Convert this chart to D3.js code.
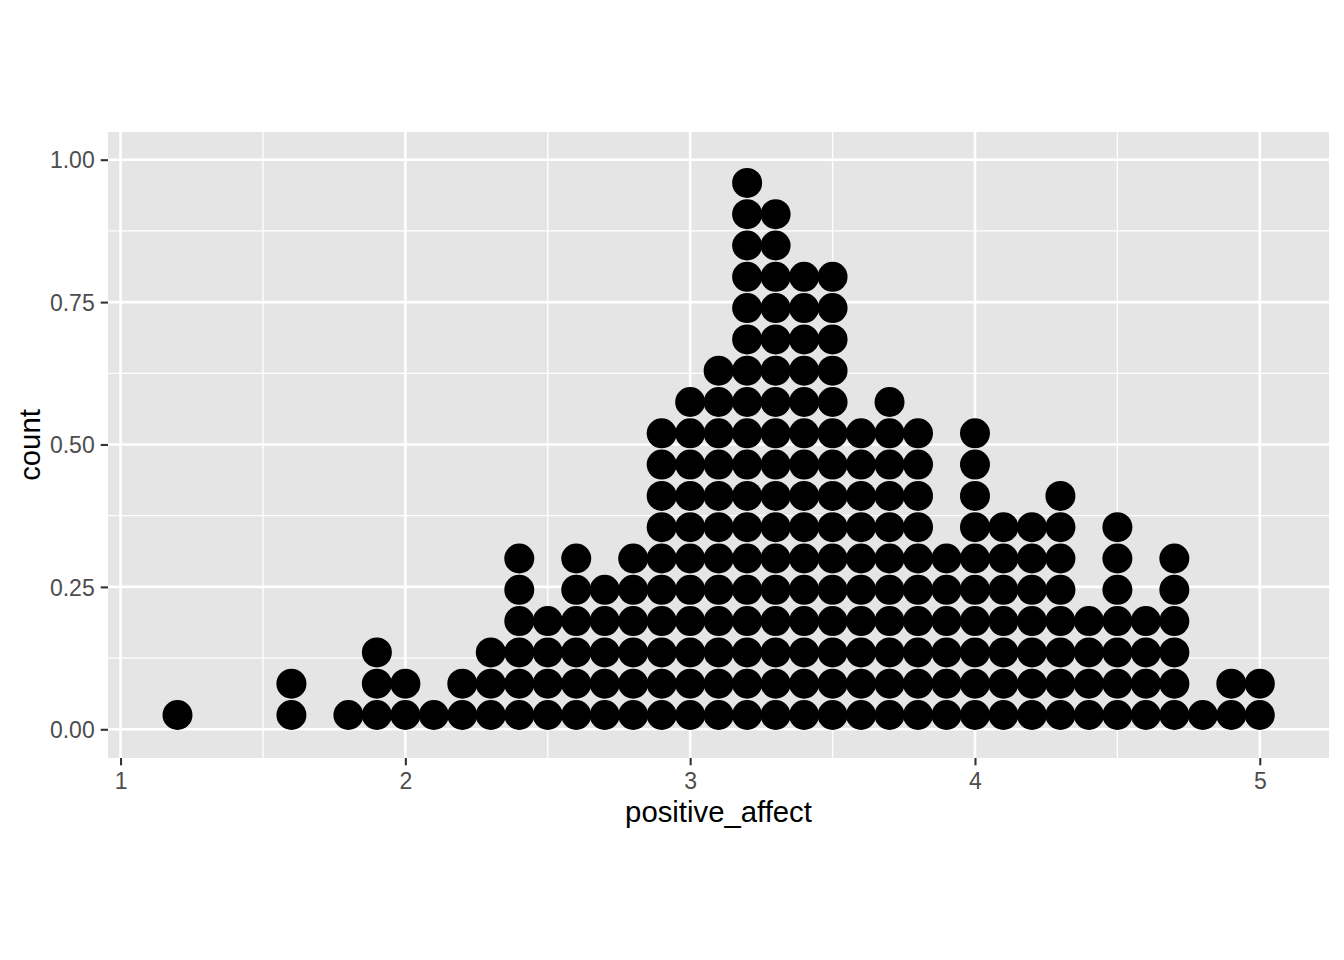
<!DOCTYPE html>
<html>
<head>
<meta charset="utf-8">
<script src="https://cdn.jsdelivr.net/npm/d3@7"></script>
<style>
  body { margin: 0; background: #fff; }
  text { font-family: "Liberation Sans", Arial, Helvetica, sans-serif; }
</style>
</head>
<body>
<div id="chart"></div>
<script>
// bins of positive_affect (binwidth 0.1) and how many dots are stacked in each
var bins   = [1.2, 1.6, 1.8, 1.9, 2.0, 2.1, 2.2, 2.3, 2.4, 2.5, 2.6, 2.7, 2.8, 2.9, 3.0, 3.1, 3.2, 3.3, 3.4, 3.5,
              3.6, 3.7, 3.8, 3.9, 4.0, 4.1, 4.2, 4.3, 4.4, 4.5, 4.6, 4.7, 4.8, 4.9, 5.0];
var counts = [1, 2, 1, 3, 2, 1, 2, 3, 6, 4, 6, 5, 6, 10, 11, 12, 18, 17, 15, 15,
              10, 11, 10, 6, 10, 7, 7, 8, 4, 7, 4, 6, 1, 2, 2];
var xTicks = [1, 2, 3, 4, 5];
var xMinor = [1.5, 2.5, 3.5, 4.5];
var yTicks = [0, 0.25, 0.5, 0.75, 1.0];
var yMinor = [0.125, 0.375, 0.625, 0.875];

var W = 1344, H = 960;
var panel = {left: 108, right: 1329, top: 132, bottom: 758};

var svg = d3.select("#chart").append("svg").attr("width", W).attr("height", H);

var x = d3.scaleLinear().domain([0.956, 5.243]).range([panel.left, panel.right]);
var y = d3.scaleLinear().domain([-0.0504, 1.0486]).range([panel.bottom, panel.top]);

var r = 15;
// stack index -> pixel centre (first dot sits on the zero line)
var stackY = d3.scaleLinear().domain([0, 1]).range([y(0) - r + 0.7, y(0) - r + 0.7 - 31.3]);

// panel background
svg.append("rect")
  .attr("x", panel.left).attr("y", panel.top)
  .attr("width", panel.right - panel.left).attr("height", panel.bottom - panel.top)
  .attr("fill", "#E5E5E5");

var grid = svg.append("g");
grid.selectAll(".yminor").data(yMinor).enter().append("line")
  .attr("x1", panel.left).attr("x2", panel.right)
  .attr("y1", function(d) { return y(d); }).attr("y2", function(d) { return y(d); })
  .attr("stroke", "#fff").attr("stroke-width", 1.3);
grid.selectAll(".xminor").data(xMinor).enter().append("line")
  .attr("y1", panel.top).attr("y2", panel.bottom)
  .attr("x1", function(d) { return x(d); }).attr("x2", function(d) { return x(d); })
  .attr("stroke", "#fff").attr("stroke-width", 1.3);
grid.selectAll(".ymajor").data(yTicks).enter().append("line")
  .attr("x1", panel.left).attr("x2", panel.right)
  .attr("y1", function(d) { return y(d); }).attr("y2", function(d) { return y(d); })
  .attr("stroke", "#fff").attr("stroke-width", 2.6);
grid.selectAll(".xmajor").data(xTicks).enter().append("line")
  .attr("y1", panel.top).attr("y2", panel.bottom)
  .attr("x1", function(d) { return x(d); }).attr("x2", function(d) { return x(d); })
  .attr("stroke", "#fff").attr("stroke-width", 2.6);

// dots
var dots = [];
bins.forEach(function(b, i) {
  for (var k = 0; k < counts[i]; k++) dots.push({bin: b, idx: k});
});
svg.append("g").selectAll("circle").data(dots).enter().append("circle")
  .attr("cx", function(d) { return x(d.bin); })
  .attr("cy", function(d) { return stackY(d.idx); })
  .attr("r", r)
  .attr("fill", "#000");

// axes
var xAxis = svg.append("g")
  .attr("transform", "translate(0," + panel.bottom + ")")
  .call(d3.axisBottom(x).tickValues(xTicks).tickFormat(d3.format("d")).tickSize(7.3).tickPadding(6));
var yAxis = svg.append("g")
  .attr("transform", "translate(" + panel.left + ",0)")
  .call(d3.axisLeft(y).tickValues(yTicks).tickFormat(d3.format(".2f")).tickSize(7.3).tickPadding(6));

[xAxis, yAxis].forEach(function(a) {
  a.select(".domain").remove();
  a.selectAll(".tick line").attr("stroke", "#333333").attr("stroke-width", 2.1);
  a.selectAll(".tick text").attr("fill", "#4D4D4D").style("font-size", "23px")
   .style("font-family", "'Liberation Sans', Arial, sans-serif");
});
xAxis.selectAll(".tick text").attr("dy", "0.75em");
yAxis.selectAll(".tick text").attr("dy", "0.36em");

// axis titles
svg.append("text")
  .attr("x", (panel.left + panel.right) / 2).attr("y", 822)
  .attr("text-anchor", "middle")
  .style("font-size", "29.3px").attr("fill", "#000")
  .text("positive_affect");

svg.append("text")
  .attr("transform", "translate(40," + (panel.top + panel.bottom) / 2 + ") rotate(-90)")
  .attr("text-anchor", "middle")
  .style("font-size", "29.3px").attr("fill", "#000")
  .text("count");
</script>
</body>
</html>
